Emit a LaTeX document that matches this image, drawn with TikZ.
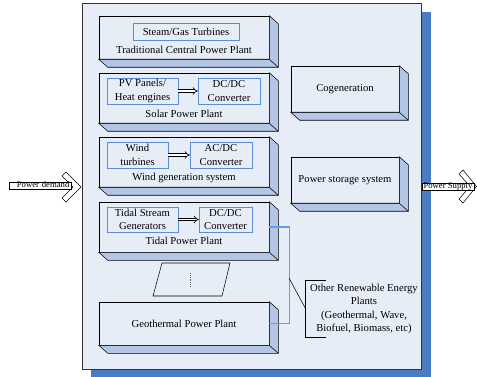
\documentclass[tikz,border=0pt]{standalone}
\usepackage{fontspec}
\setmainfont{Liberation Serif}
\usetikzlibrary{arrows.meta}
\definecolor{panel}{HTML}{E7EDF7}
\definecolor{sideblue}{HTML}{B3C6E6}
\definecolor{shadowblue}{HTML}{4A7BC5}
\definecolor{edgeblue}{HTML}{5B8DD6}
\definecolor{linkblue}{HTML}{6A9AE6}
\begin{document}
\begin{tikzpicture}[x=0.75pt, y=-0.75pt, font=\rmfamily\fontsize{8}{10}\selectfont,
      plant/.style={draw=black, fill=panel, minimum width=127.5pt, minimum height=37.5pt, inner sep=0pt},
      unit/.style={draw=black, fill=panel, minimum width=81pt, minimum height=34.5pt, inner sep=0pt},
      part/.style={draw=edgeblue, fill=panel, align=center, inner sep=0pt, minimum height=19.5pt},
      side/.style={draw=black, fill=sideblue},
      conv/.style={line width=0.5pt, double=white, double distance=1.4pt, -{Implies}},
      link/.style={draw=linkblue, line width=0.8pt},
      shaft/.style={draw=black, fill=white, inner sep=0pt, font=\rmfamily\fontsize{6.5}{7}\selectfont,
        text height=4.3pt, text depth=1.1pt},
      chevron/.style={draw=black, fill=white}]
    \useasboundingbox (0,0) rectangle (477,377);
    % frame
    \fill[shadowblue] (91,12) rectangle (431,378);
    \draw[fill=panel, draw=black!80] (82,3) rectangle (421,369);
    % plants
    \node[plant, minimum height=32.25pt] (trad) at (184,37.5) {};
    \node[part, minimum width=79.5pt, minimum height=12.75pt] (steam) at (186,31.5) {Steam/Gas Turbines};
    \node (tradlbl) at (184,49.5) {Traditional Central Power Plant};
    \node[plant] (solar) at (184,98) {};
    \node[part, minimum width=53.25pt] (pv) at (142.5,91) {PV Panels/\\Heat engines};
    \node[part, minimum width=46.5pt] (soldc) at (229,91) {DC/DC\\Converter};
    \node (sollbl) at (184,113.5) {Solar Power Plant};
    \node[plant] (wind) at (184,162) {};
    \node[part, minimum width=45.75pt] (turb) at (137.5,155) {Wind\\turbines};
    \node[part, minimum width=46.5pt] (acdc) at (221,155) {AC/DC\\Converter};
    \node (windlbl) at (184,178) {Wind generation system};
    \node[plant] (tidal) at (184,227) {};
    \node[part, minimum width=53.25pt, minimum height=18.75pt] (gen) at (142.5,219.5) {Tidal Stream\\Generators};
    \node[part, minimum width=39.75pt, minimum height=18.75pt] (tiddc) at (225.5,219.5) {DC/DC\\Converter};
    \node (tidlbl) at (184,241) {Tidal Power Plant};
    \node[plant, minimum height=32.25pt] (geo) at (184,323.5) {Geothermal Power Plant};
    \node[unit] (cogen) at (345,89) {Cogeneration};
    \node[unit] (store) at (345,180) {Power storage system};
    % depth of the boxes
    \foreach \b in {trad,solar,wind,tidal,geo,cogen,store}{
      \filldraw[side] (\b.north east) -- ++(9,8) -- ([shift={(9,8)}]\b.south east)
        -- ([shift={(9,8)}]\b.south west) -- (\b.south west) -- (\b.south east) -- cycle;
      \draw (\b.south east) -- ++(9,8);
    }
    % more plants
    \draw[fill=panel] (162,263) -- (230,263) -- (222,296) -- (153,296) -- cycle;
    \draw[densely dotted, black!60] (190,273) -- (190,287);
    \draw[conv] (pv) -- (soldc);
    \draw[conv] (turb) -- (acdc);
    \draw[conv] (gen) -- (tiddc);
    \draw[link] (tidal.east) -- ++(20,0) |- (geo.east);
    \node[align=center, inner sep=0pt, minimum width=87pt, minimum height=42pt] (other) at (364,309)
      {Other Renewable Energy\\Plants\\(Geothermal, Wave,\\Biofuel, Biomass, etc)};
    \coordinate (tap) at (289,278);
    \draw (tap) -- (other.west);
    \draw (other.north west) ++(20,0) -- (other.north west) -- (other.south west) -- ++(20,0);
    % power in and out
    \draw[chevron] (62,176) -- (66,172) -- (81,187) -- (66,202) -- (62,198) -- (73,187) -- cycle;
    \node[shaft, minimum width=46.5pt, text width=44pt, align=right] (demand) at (40,185.5) {Power demand};
    \draw[chevron] (459,174) -- (463,170) -- (476.5,186.5) -- (463,203) -- (459,199) -- (470,186.5) -- cycle;
    \node[shaft, minimum width=39pt] (supply) at (448,186.5) {Power Supply};
  \end{tikzpicture}
\end{document}
